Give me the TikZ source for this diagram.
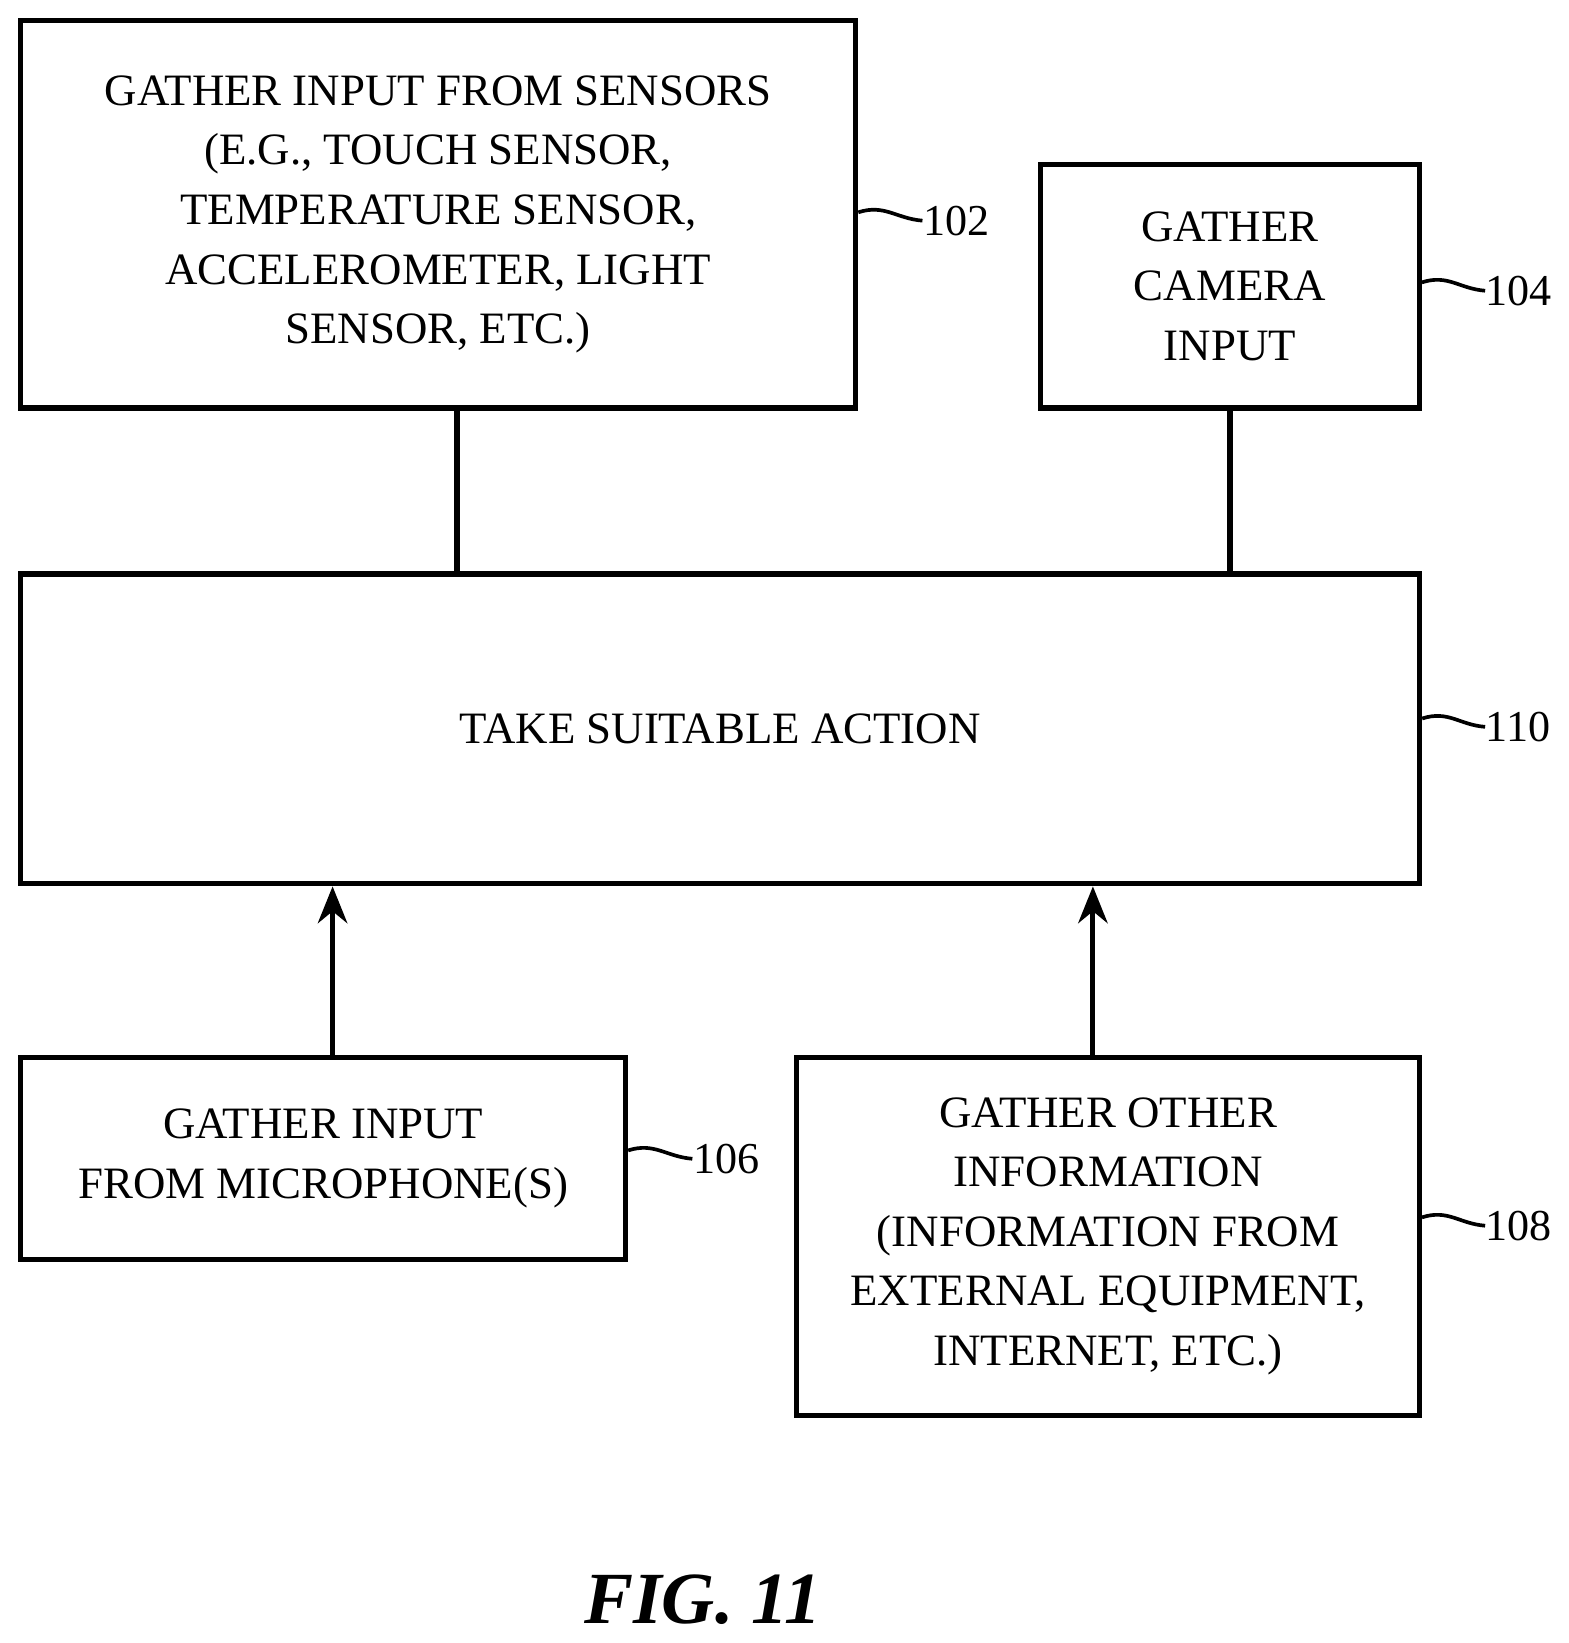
\documentclass[tikz,border=0pt]{standalone}
\usepackage{fontspec}
\setmainfont{Liberation Serif}
\usetikzlibrary{arrows.meta}
\begin{document}
\begin{tikzpicture}[x=0.01cm,y=-0.01cm,
  box/.style={draw,line width=1.4pt,inner sep=0pt,align=center,font=\fontsize{12.2}{16.2}\selectfont},
  lab/.style={font=\fontsize{12}{14}\selectfont,anchor=west,inner sep=0pt},
  sq/.style={line width=1pt},
  ln/.style={line width=1.4pt},
  arr/.style={line width=1.4pt,-{Stealth[length=10pt,width=8pt]}}]
\useasboundingbox (0,0) rectangle (1500,1571);
\node[box,minimum width=798\pgflinewidth] (b102) at (419,205) [minimum width=7.98cm,minimum height=3.70cm] {GATHER INPUT FROM SENSORS\\(E.G., TOUCH SENSOR,\\TEMPERATURE SENSOR,\\ACCELEROMETER, LIGHT\\SENSOR, ETC.)};
\node[box,minimum width=3.62cm,minimum height=2.33cm] (b104) at (1176,273.5) {GATHER\\CAMERA\\INPUT};
\node[box,minimum width=13.37cm,minimum height=2.96cm] (b110) at (688.5,697) {TAKE SUITABLE ACTION};
\node[box,minimum width=5.78cm,minimum height=1.93cm] (b106) at (309,1107.5) {GATHER INPUT\\FROM MICROPHONE(S)};
\node[box,minimum width=5.95cm,minimum height=3.42cm] (b108) at (1059.5,1182) {GATHER OTHER\\INFORMATION\\(INFORMATION FROM\\EXTERNAL EQUIPMENT,\\INTERNET, ETC.)};
\coordinate (t102) at (437,390); \coordinate (t104) at (1176,390);
\draw[ln] (t102) -- (t102 |- b110.north);
\draw[ln] (t104) -- (t104 |- b110.north);
\draw[arr] (b106.north -| 318,0) -- (b110.south -| 318,0);
\draw[arr] (b108.north -| 1045,0) -- (b110.south -| 1045,0);
\node[lab] (l102) at (882,211) {102};
\node[lab] (l104) at (1420,278) {104};
\node[lab] (l110) at (1420,695) {110};
\node[lab] (l106) at (662,1108) {106};
\node[lab] (l108) at (1420,1172) {108};
\draw[sq] (b102.east |- l102) ++(0,-8) .. controls +(25,-8) and +(-25,-2) .. (l102.west);
\draw[sq] (b104.east |- l104) ++(0,-8) .. controls +(25,-8) and +(-25,-2) .. (l104.west);
\draw[sq] (b110.east |- l110) ++(0,-8) .. controls +(25,-8) and +(-25,-2) .. (l110.west);
\draw[sq] (b106.east |- l106) ++(0,-8) .. controls +(25,-8) and +(-25,-2) .. (l106.west);
\draw[sq] (b108.east |- l108) ++(0,-8) .. controls +(25,-8) and +(-25,-2) .. (l108.west);
\node[font=\fontsize{20}{24}\selectfont\bfseries\itshape] (fig) at (672,1530) {FIG. 11};
\end{tikzpicture}
\end{document}
